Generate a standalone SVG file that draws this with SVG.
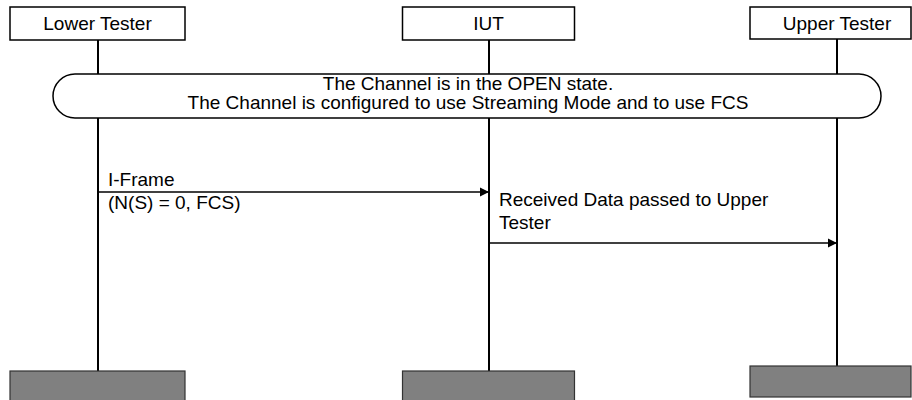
<svg xmlns="http://www.w3.org/2000/svg" width="912" height="400" viewBox="0 0 912 400">
  <defs>
    <marker id="arrow" viewBox="0 0 10 10" refX="10" refY="5" markerWidth="9" markerHeight="10" markerUnits="userSpaceOnUse" orient="auto">
      <path d="M0,0 L10,5 L0,10 Z" fill="#000"/>
    </marker>
    <style>
      .hdr { fill: #fff; stroke: #000; stroke-width: 1.5; }
      .foot { fill: #808080; stroke: #333; stroke-width: 1.2; }
      .life { stroke: #000; stroke-width: 2; fill: none; }
      .msg { stroke: #000; stroke-width: 1.5; fill: none; marker-end: url(#arrow); }
      .state { fill: #fff; stroke: #000; stroke-width: 1.5; }
      text { font-family: "Liberation Sans", Arial, sans-serif; font-size: 19px; fill: #000; }
      .c { text-anchor: middle; }
    </style>
  </defs>

  <g id="lifelines">
    <line class="life" x1="98" y1="40" x2="98" y2="371"/>
    <line class="life" x1="489" y1="40" x2="489" y2="371"/>
    <line class="life" x1="837" y1="39" x2="837" y2="366"/>
  </g>

  <g id="lower-tester">
    <rect class="hdr" x="10" y="7" width="175" height="33"/>
    <text class="c" x="97.5" y="29.5">Lower Tester</text>
    <rect class="foot" x="10" y="371" width="175" height="32"/>
  </g>

  <g id="iut">
    <rect class="hdr" x="402.5" y="7" width="172" height="33"/>
    <text class="c" x="488.5" y="29.5">IUT</text>
    <rect class="foot" x="402.5" y="371" width="172" height="32"/>
  </g>

  <g id="upper-tester">
    <rect class="hdr" x="750" y="7" width="161" height="32"/>
    <text class="c" x="837" y="29.5">Upper Tester</text>
    <rect class="foot" x="750" y="366" width="161" height="31"/>
  </g>

  <g id="state">
    <rect class="state" x="53" y="74" width="828" height="44" rx="22" ry="22"/>
    <text class="c" x="468" y="89.5">The Channel is in the OPEN state.</text>
    <text class="c" x="468" y="109">The Channel is configured to use Streaming Mode and to use FCS</text>
  </g>

  <g id="connectors">
    <line class="msg" x1="98" y1="192" x2="489" y2="192"/>
    <text x="108" y="185.5">I-Frame</text>
    <text x="108" y="209">(N(S) = 0, FCS)</text>
    <line class="msg" x1="489" y1="243" x2="837" y2="243"/>
    <text x="499" y="206">Received Data passed to Upper</text>
    <text x="499" y="228.5">Tester</text>
  </g>
</svg>
